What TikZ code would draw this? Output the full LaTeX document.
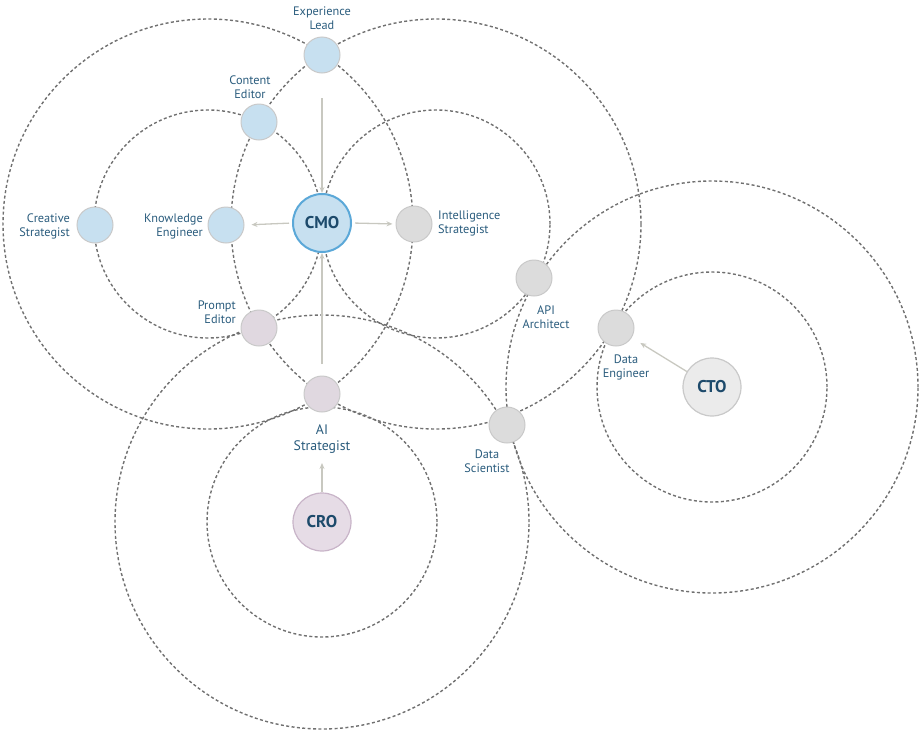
\documentclass[tikz,border=0pt]{standalone}
\usepackage{fontspec}
\setmainfont{PT Sans}
\usepackage{tikz}
\usetikzlibrary{arrows.meta}

\definecolor{ringgray}{HTML}{707070}
\definecolor{rimgray}{HTML}{C9C9C9}
\definecolor{roleblue}{HTML}{C7E0F0}
\definecolor{rolegray}{HTML}{DCDCDC}
\definecolor{rolemauve}{HTML}{E0D8E0}
\definecolor{cmorim}{HTML}{5BA8D8}
\definecolor{crofill}{HTML}{E6DCE6}
\definecolor{crorim}{HTML}{C8B4C8}
\definecolor{ctofill}{HTML}{EBEBEB}
\definecolor{tagtext}{HTML}{2A5C7D}
\definecolor{chieftext}{HTML}{1D4A6B}
\definecolor{linkgray}{HTML}{C8C8C0}

\tikzset{
  orbit/.style={draw=ringgray, dash pattern=on 3pt off 2.4pt, line width=1.4pt},
  role/.style={circle, draw=rimgray, line width=1pt, minimum size=36pt, inner sep=0pt},
  chief/.style={circle, line width=1.2pt, minimum size=58pt, inner sep=0pt,
    text=chieftext, font=\bfseries\fontsize{17}{17}\selectfont},
  tag/.style={text=tagtext, align=center, inner sep=0pt,
    font=\fontsize{12.3}{14}\selectfont},
  link/.style={draw=linkgray, line width=1.3pt, -{Stealth[length=6pt,width=5pt]}},
}

\begin{document}
\begin{tikzpicture}[x=1pt, y=-1pt]
    \useasboundingbox (0,0) rectangle (920,731);

    % Orbits
    \draw[orbit] (208,224) circle (114pt);
    \draw[orbit] (208,224) circle (205pt);
    \draw[orbit] (436,224) circle (114pt);
    \draw[orbit] (436,224) circle (205pt);
    \draw[orbit] (322,522) circle (115pt);
    \draw[orbit] (322,522) circle (207pt);
    \draw[orbit] (712,387) circle (115pt);
    \draw[orbit] (712,387) circle (206pt);

    % Roles
    \node[role, fill=roleblue] (explead) at (322,55) {};
    \node[role, fill=roleblue] (content) at (259,122) {};
    \node[role, fill=roleblue] (creative) at (95,225) {};
    \node[role, fill=roleblue] (knowledge) at (226,225) {};
    \node[role, fill=rolegray] (intel) at (414,224) {};
    \node[role, fill=rolegray] (api) at (534,278) {};
    \node[role, fill=rolegray] (dataeng) at (616,328) {};
    \node[role, fill=rolegray] (datasci) at (507,425) {};
    \node[role, fill=rolemauve] (prompt) at (259,328) {};
    \node[role, fill=rolemauve] (aistrat) at (322,394) {};

    % Chiefs
    \node[chief, draw=cmorim, line width=2pt, fill=roleblue] (cmo) at (322,223) {CMO};
    \node[chief, draw=crorim, fill=crofill] (cro) at (322,522) {CRO};
    \node[chief, draw=rimgray, fill=ctofill] (cto) at (712,387) {CTO};

    % Labels
    \node[tag] (explead-t) at (322,18) {Experience\\Lead};
    \node[tag] (content-t) at (250,87) {Content\\Editor};
    \node[tag, anchor=east, align=right] (creative-t) at (70,226) {Creative\\Strategist};
    \node[tag, anchor=east, align=right] (knowledge-t) at (203,226) {Knowledge\\Engineer};
    \node[tag, anchor=west, align=left] (intel-t) at (438,223) {Intelligence\\Strategist};
    \node[tag] (api-t) at (546,317) {API\\Architect};
    \node[tag] (dataeng-t) at (626,367) {Data\\Engineer};
    \node[tag, anchor=east, align=right] (prompt-t) at (236,312) {Prompt\\Editor};
    \node[tag, font=\fontsize{13.8}{16}\selectfont] (aistrat-t) at (322,439) {AI\\Strategist};
    \node[tag] (datasci-t) at (487,461) {Data\\Scientist};

    % Links
    \coordinate (topfeed) at (322,98);
    \coordinate (lowfeed) at (322,364);
    \coordinate (croaim) at (322,463);
    \draw[link] (topfeed) -- (cmo.north);
    \draw[link] (lowfeed) -- (cmo.south);
    \draw[link, shorten <=3pt, shorten >=7pt] (cmo.west) -- (knowledge.east);
    \draw[link, shorten <=3pt, shorten >=3pt] (cmo.east) -- (intel.west);
    \draw[link] (cro.north) -- (croaim);
    \draw[link, shorten >=10pt] (cto) -- (dataeng);

\end{tikzpicture}
\end{document}
